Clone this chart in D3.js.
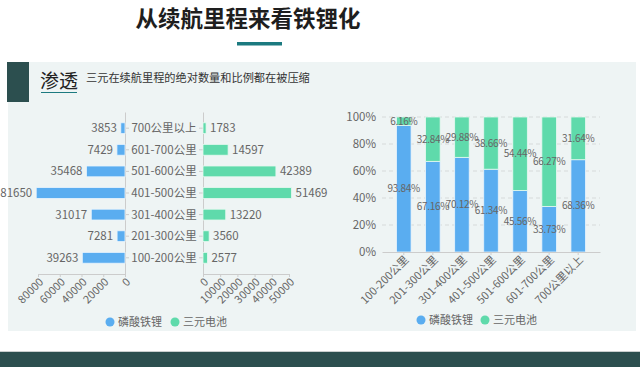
<!DOCTYPE html>
<html>
<head>
<meta charset="utf-8">
<script src="https://cdn.jsdelivr.net/npm/d3@7"></script>
<style>
  body { margin: 0; background: #fff; }
  svg { display: block; font-family: "Noto Sans CJK SC", "Noto Sans", sans-serif; }
</style>
</head>
<body>
<svg width="640" height="367"></svg>
<script>
// data
var categories = ["100-200公里", "201-300公里", "301-400公里", "401-500公里", "501-600公里", "601-700公里", "700公里以上"];
var lfpCounts = [39263, 7281, 31017, 81650, 35468, 7429, 3853];
var ncmCounts = [2577, 3560, 13220, 51469, 42389, 14597, 1783];
var lfpShare = [93.84, 67.16, 70.12, 61.34, 45.56, 33.73, 68.36];
var ncmShare = [6.16, 32.84, 29.88, 38.66, 54.44, 66.27, 31.64];
var seriesNames = ["磷酸铁锂", "三元电池"];
var leftTicks = [0, 20000, 40000, 60000, 80000];
var rightTicks = [0, 10000, 20000, 30000, 40000, 50000];

var blue = "#5aadf0", green = "#5fdaab", dark = "#2c4f4f", teal = "#1c7a80", txt = "#666";

var svg = d3.select("svg");

// page frame
svg.append("rect").attr("x", 8).attr("y", 62).attr("width", 628).attr("height", 269).attr("fill", "#eef4f4");
svg.append("rect").attr("x", 0).attr("y", 351).attr("width", 640).attr("height", 1).attr("fill", "#c9cfcf");
svg.append("rect").attr("x", 0).attr("y", 352).attr("width", 640).attr("height", 15).attr("fill", dark);
svg.append("rect").attr("x", 7).attr("y", 62).attr("width", 22).attr("height", 40).attr("fill", dark);

svg.append("text").attr("x", 248).attr("y", 27).attr("text-anchor", "middle")
   .attr("font-size", "22.5px").attr("font-weight", "bold").attr("fill", "#1e1e1e")
   .text("从续航里程来看铁锂化");
svg.append("rect").attr("x", 237).attr("y", 42).attr("width", 45).attr("height", 3.5).attr("fill", teal);

svg.append("text").attr("x", 40).attr("y", 88).attr("font-size", "19px").attr("fill", "#222").text("渗透");
svg.append("rect").attr("x", 41).attr("y", 92).attr("width", 36).attr("height", 1).attr("fill", teal);
svg.append("text").attr("x", 86).attr("y", 82).attr("font-size", "11.2px").attr("fill", "#333")
   .text("三元在续航里程的绝对数量和比例都在被压缩");

// ---------- left: butterfly chart ----------
var y = d3.scaleBand().domain(categories.slice().reverse()).range([112, 274]).padding(0.5);
var xl = d3.scaleLinear().domain([0, 80000]).range([125, 38]);
var xr = d3.scaleLinear().domain([0, 50000]).range([203, 289]);

var rows = categories.map(function(c, i) { return { cat: c, lfp: lfpCounts[i], ncm: ncmCounts[i] }; });

function styleAxis(g) {
  g.selectAll("path, line").attr("stroke", "#ccc");
  g.selectAll("text").attr("fill", txt).attr("font-size", "11px").attr("font-family", "Noto Sans CJK SC, Noto Sans, sans-serif");
}

var ayl = svg.append("g").attr("transform", "translate(125,0)")
   .call(d3.axisRight(y).tickSize(4).tickSizeOuter(0).tickFormat(""));
styleAxis(ayl);
var ayr = svg.append("g").attr("transform", "translate(203,0)")
   .call(d3.axisLeft(y).tickSize(4).tickSizeOuter(0).tickFormat(""));
styleAxis(ayr);

var axl = svg.append("g").attr("transform", "translate(0,274)")
   .call(d3.axisBottom(xl).tickValues(leftTicks).tickFormat(d3.format("d")).tickSize(3).tickSizeOuter(0));
styleAxis(axl);
axl.selectAll("text").attr("text-anchor", "end").attr("dy", "0.3em")
   .attr("transform", "translate(-1,2) rotate(-45)");

var axr = svg.append("g").attr("transform", "translate(0,274)")
   .call(d3.axisBottom(xr).tickValues(rightTicks).tickFormat(d3.format("d")).tickSize(3).tickSizeOuter(0));
styleAxis(axr);
axr.selectAll("text").attr("text-anchor", "end").attr("dy", "0.3em")
   .attr("transform", "translate(-1,2) rotate(-45)");

svg.selectAll(".lbar").data(rows).enter().append("rect")
   .attr("x", function(d) { return xl(d.lfp); })
   .attr("y", function(d) { return y(d.cat); })
   .attr("width", function(d) { return xl(0) - xl(d.lfp); })
   .attr("height", y.bandwidth())
   .attr("fill", blue).attr("stroke", "#e8f4fd").attr("stroke-width", 0.8);
svg.selectAll(".rbar").data(rows).enter().append("rect")
   .attr("x", xr(0))
   .attr("y", function(d) { return y(d.cat); })
   .attr("width", function(d) { return xr(d.ncm) - xr(0); })
   .attr("height", y.bandwidth())
   .attr("fill", green).attr("stroke", "#e6f8f0").attr("stroke-width", 0.8);

svg.selectAll(".lval").data(rows).enter().append("text")
   .attr("x", function(d) { return xl(d.lfp) - 4; })
   .attr("y", function(d) { return y(d.cat) + y.bandwidth() / 2; })
   .attr("dy", "0.35em").attr("text-anchor", "end")
   .attr("font-size", "11.5px").attr("fill", txt)
   .text(function(d) { return d.lfp; });
svg.selectAll(".rval").data(rows).enter().append("text")
   .attr("x", function(d) { return xr(d.ncm) + 4; })
   .attr("y", function(d) { return y(d.cat) + y.bandwidth() / 2; })
   .attr("dy", "0.35em")
   .attr("font-size", "11.5px").attr("fill", txt)
   .text(function(d) { return d.ncm; });
svg.selectAll(".cat").data(rows).enter().append("text")
   .attr("x", 164)
   .attr("y", function(d) { return y(d.cat) + y.bandwidth() / 2; })
   .attr("dy", "0.35em").attr("text-anchor", "middle")
   .attr("font-size", "11.5px").attr("fill", txt)
   .text(function(d) { return d.cat; });

// ---------- right: 100% stacked ----------
var xb = d3.scaleBand().domain(categories).range([382, 600]).padding(0.5);
var yp = d3.scaleLinear().domain([0, 100]).range([252, 117]);

svg.append("g").selectAll("line").data([20, 40, 60, 80, 100]).enter().append("line")
   .attr("x1", 382).attr("x2", 600)
   .attr("y1", function(d) { return yp(d); }).attr("y2", function(d) { return yp(d); })
   .attr("stroke", "#d6dada").attr("stroke-dasharray", "4,3");

var ayp = svg.append("g").attr("transform", "translate(382,0)")
   .call(d3.axisLeft(yp).tickValues([0, 20, 40, 60, 80, 100]).tickSize(0).tickPadding(6)
   .tickFormat(function(d) { return d + "%"; }));
styleAxis(ayp);
ayp.select(".domain").remove();
ayp.selectAll("text").attr("font-size", "11.5px");

var stackRows = categories.map(function(c, i) { return { cat: c, lfp: lfpShare[i], ncm: ncmShare[i] }; });
var stacked = d3.stack().keys(["lfp", "ncm"])(stackRows);
var colors = [blue, green];
var edges = ["#e8f4fd", "#e6f8f0"];

stacked.forEach(function(layer, k) {
  svg.append("g").selectAll("rect").data(layer).enter().append("rect")
     .attr("x", function(d) { return xb(d.data.cat); })
     .attr("y", function(d) { return yp(d[1]); })
     .attr("width", xb.bandwidth())
     .attr("height", function(d) { return yp(d[0]) - yp(d[1]); })
     .attr("fill", colors[k]).attr("stroke", edges[k]).attr("stroke-width", 0.8);
});
stacked.forEach(function(layer) {
  svg.append("g").selectAll("text").data(layer).enter().append("text")
     .attr("x", function(d) { return xb(d.data.cat) + xb.bandwidth() / 2; })
     .attr("y", function(d) { return (yp(d[0]) + yp(d[1])) / 2; })
     .attr("dy", "0.35em").attr("text-anchor", "middle")
     .attr("font-size", "10px").attr("letter-spacing", "-0.3px").attr("fill", txt)
     .text(function(d) { return (d[1] - d[0]).toFixed(2) + "%"; });
});

var axb = svg.append("g").attr("transform", "translate(0,252)")
   .call(d3.axisBottom(xb).tickSize(3).tickSizeOuter(0));
styleAxis(axb);
axb.selectAll("text").attr("text-anchor", "end").attr("dy", "0.3em")
   .attr("transform", "translate(-1,2) rotate(-45)");

// legends
function legend(x0, y0, gap) {
  seriesNames.forEach(function(n, i) {
    var g = svg.append("g").attr("transform", "translate(" + (x0 + i * gap) + "," + y0 + ")");
    g.append("circle").attr("r", 4.5).attr("fill", colors[i]);
    g.append("text").attr("x", 8).attr("dy", "0.35em").attr("font-size", "11px").attr("fill", txt).text(n);
  });
}
legend(110, 322, 65);
legend(421, 320, 64);
</script>
</body>
</html>
